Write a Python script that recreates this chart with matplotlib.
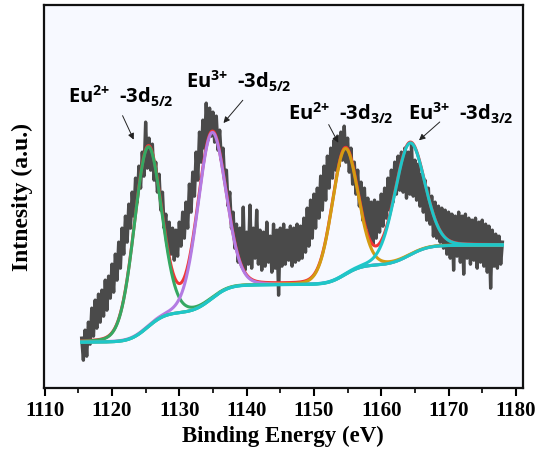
import numpy as np
import matplotlib.pyplot as plt
from matplotlib.ticker import MultipleLocator

plt.rcParams['mathtext.fontset'] = 'custom'
plt.rcParams['mathtext.rm'] = 'Open Sans:bold'
plt.rcParams['mathtext.bf'] = 'Open Sans:bold'

# Eu 3d spectrum, 0.25 eV steps starting at 1115.5 eV (arbitrary intensity units)
energy_start = 1115.5
energy_step = 0.25
counts = [
    50, 28, 58, 32, 66, 44, 80, 52, 88, 60, 94, 66, 98, 72, 108, 78, 112, 90, 124, 96,
    134, 108, 146, 120, 160, 134, 172, 146, 184, 160, 196, 172, 210, 186, 222, 200, 236, 212, 266, 220,
    250, 218, 244, 208, 226, 196, 214, 178, 196, 160, 174, 142, 166, 134, 160, 128, 158, 132, 166, 142,
    176, 150, 186, 160, 204, 176, 216, 192, 236, 208, 256, 226, 268, 240, 285, 248, 280, 252, 276, 246,
    272, 238, 258, 228, 240, 206, 218, 182, 196, 160, 176, 140, 164, 126, 160, 122, 181, 118, 156, 124,
    183, 120, 160, 130, 178, 124, 158, 118, 156, 122, 166, 126, 152, 116, 164, 120, 158, 93, 160, 122,
    164, 124, 158, 128, 162, 122, 160, 126, 164, 128, 162, 130, 170, 136, 180, 142, 188, 150, 194, 160,
    200, 170, 212, 178, 222, 188, 232, 200, 240, 210, 248, 218, 252, 222, 256, 228, 262, 226, 250, 216,
    240, 204, 226, 194, 218, 182, 206, 168, 200, 160, 190, 150, 186, 144, 188, 150, 186, 156, 194, 162,
    200, 170, 210, 178, 218, 186, 226, 194, 232, 198, 236, 196, 240, 190, 236, 194, 244, 192, 228, 188,
    224, 182, 214, 176, 208, 168, 200, 164, 192, 152, 186, 150, 182, 146, 180, 140, 178, 134, 176, 130,
    174, 118, 172, 132, 176, 126, 172, 114, 174, 130, 170, 124, 168, 128, 170, 120, 166, 126, 168, 122,
    164, 116, 162, 100, 158, 122, 154, 120, 152, 124, 146,
]
energy = energy_start + energy_step * np.arange(len(counts))

# fitted components (pseudo-Voigt) and Shirley background end levels
peak_labels = [r'$\mathbf{Eu^{2{+}}\ \,\text{-}3d_{5/2}}$', r'$\mathbf{Eu^{3{+}}\ \,\text{-}3d_{5/2}}$',
               r'$\mathbf{Eu^{2{+}}\ \,\text{-}3d_{3/2}}$', r'$\mathbf{Eu^{3{+}}\ \,\text{-}3d_{3/2}}$']
peak_centers = [1125.3, 1134.8, 1154.6, 1164.2]
peak_heights = [180, 166, 126, 112]
peak_fwhm = [4.8, 4.9, 4.5, 5.2]
peak_eta = [0.1, 0.1, 0.1, 0.1]
peak_colors = ['#35a862', '#b37be3', '#d39b12', '#1fc6c8']
bg_low, bg_high = 46, 143

# label text anchor, arrow tail and arrow head (eV, intensity)
label_pos = [(1113.4, 285), (1131.0, 300), (1146.2, 268), (1164.0, 268)]
arrow_tail = [(1121.4, 275), (1139.7, 290), (1152.0, 266), (1169.0, 268)]
arrow_head = [(1123.4, 246), (1136.3, 263), (1153.8, 243), (1165.3, 246)]


def pseudo_voigt(x, c, h, w, eta):
    u = ((x - c) / w) ** 2
    return h * (eta / (1 + 4 * u) + (1 - eta) * np.exp(-4 * np.log(2) * u))


x = np.linspace(energy[0], energy[-1], 1200)
peaks = [pseudo_voigt(x, c, h, w, e)
         for c, h, w, e in zip(peak_centers, peak_heights, peak_fwhm, peak_eta)]
total = np.sum(peaks, axis=0)
frac = np.cumsum(total)
frac = (frac - frac[0]) / (frac[-1] - frac[0])
background = bg_low + (bg_high - bg_low) * frac

fig = plt.figure(figsize=(5.39, 4.66), dpi=100)
ax = fig.add_axes([0.0816, 0.167, 0.888, 0.822])
ax.set_facecolor('#f7f9ff')

ax.plot(energy, counts, color='#4a4a4a', lw=2.4, zorder=1)
ax.plot(x, background + total, color='#f03535', lw=2.2, zorder=2)
for p, col in zip(peaks, peak_colors):
    ax.plot(x, background + p, color=col, lw=2.2, zorder=3)
ax.plot(x, background, color=peak_colors[3], lw=2.2, zorder=4)

for lab, pos, tail, head in zip(peak_labels, label_pos, arrow_tail, arrow_head):
    ax.text(pos[0], pos[1], lab, fontsize=14.5, va='baseline', ha='left')
    ax.annotate('', xy=head, xytext=tail,
                arrowprops=dict(arrowstyle='-|>', color='#222222', lw=0.7, mutation_scale=9))

ax.set_xlim(1109.9, 1181)
ax.set_ylim(0, 383)
ax.xaxis.set_major_locator(MultipleLocator(10))
ax.xaxis.set_minor_locator(MultipleLocator(5))
ax.set_yticks([])
ax.tick_params(axis='x', which='major', direction='out', length=6, width=1.5)
ax.tick_params(axis='x', which='minor', direction='out', length=3.5, width=1.2)
for s in ax.spines.values():
    s.set_linewidth(1.6)
    s.set_color('#111111')

for t in ax.get_xticklabels():
    t.set_fontfamily('Liberation Serif')
    t.set_fontweight('bold')
    t.set_fontsize(15)
ax.set_xlabel('Binding Energy (eV)', fontfamily='Liberation Serif', fontweight='bold', fontsize=16.5, labelpad=3)
ax.set_ylabel('Intnesity (a.u.)', fontfamily='Liberation Serif', fontweight='bold', fontsize=17, labelpad=8)

fig.savefig('out.png', dpi=100)
